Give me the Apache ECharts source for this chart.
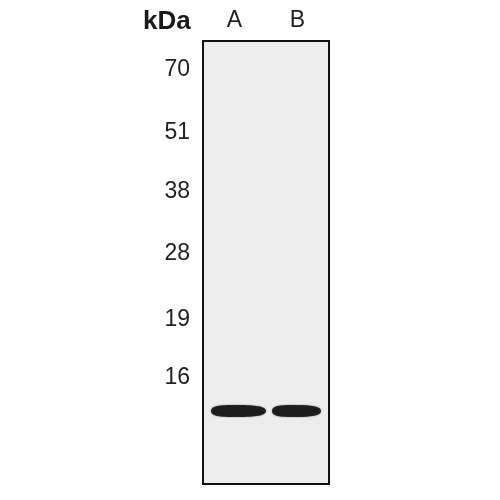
<!DOCTYPE html>
<html lang="en">
<head>
    <meta charset="UTF-8">
    <title>Western blot</title>
    <script src="https://cdn.jsdelivr.net/npm/echarts@6/dist/echarts.min.js"></script>
    <style>
        html, body { margin: 0; padding: 0; background: #fff; }
        #main { width: 500px; height: 500px; }
    </style>
</head>
<body>
<div id="main"></div>
<script type="text/javascript">
    // lanes across the top
    var lanes = ['A', 'B'];
    // marker sizes (kDa) and where they ran on the gel (0 = top, 100 = bottom)
    var markerLabels = ['70', '51', '38', '28', '19', '16'];
    var markerPos = [6.5, 20.8, 34.1, 47.9, 63.0, 76.1];
    // detected band in each lane (migration distance)
    var bandPos = [83.5, 83.5];
    var bandWidth = [55, 49];

    var myChart = echarts.init(document.getElementById('main'));

    // fat lens shape for a band
    var bandShape = 'path://M0,5 C0,0 20,0 50,0 C80,0 100,1 100,5 C100,9 80,10 50,10 C20,10 0,10 0,5 Z';

    myChart.setOption({
        animation: false,
        title: {
            text: 'kDa',
            left: 138,
            top: 4,
            textStyle: { fontFamily: 'Liberation Sans', fontSize: 26, fontWeight: 'bold', color: '#1a1a1a' }
        },
        grid: {
            left: 203, right: 171, top: 41, bottom: 16,
            show: true,
            backgroundColor: '#ededed',
            borderColor: '#111',
            borderWidth: 2
        },
        xAxis: {
            type: 'category',
            data: lanes,
            position: 'top',
            axisLine: { show: false },
            axisTick: { show: false },
            axisLabel: { margin: 9, color: '#222', fontFamily: 'Liberation Sans', fontSize: 23 }
        },
        yAxis: {
            type: 'value',
            inverse: true,
            min: 0,
            max: 100,
            splitLine: { show: false },
            axisLine: { show: false },
            axisTick: { show: false },
            axisLabel: {
                customValues: markerPos,
                margin: 13,
                color: '#222',
                fontFamily: 'Liberation Sans',
                fontSize: 23,
                formatter: function (v) {
                    var i = markerPos.indexOf(v);
                    return i >= 0 ? markerLabels[i] : '';
                }
            }
        },
        series: [{
            type: 'scatter',
            symbol: bandShape,
            data: lanes.map(function (l, i) {
                return {
                    value: [l, bandPos[i]],
                    symbolSize: [bandWidth[i], 12],
                    symbolOffset: [i === 0 ? 4 : -1, 0]
                };
            }),
            itemStyle: { color: '#000', shadowBlur: 2, shadowColor: 'rgba(0,0,0,0.5)' }
        }]
    });
</script>
</body>
</html>
